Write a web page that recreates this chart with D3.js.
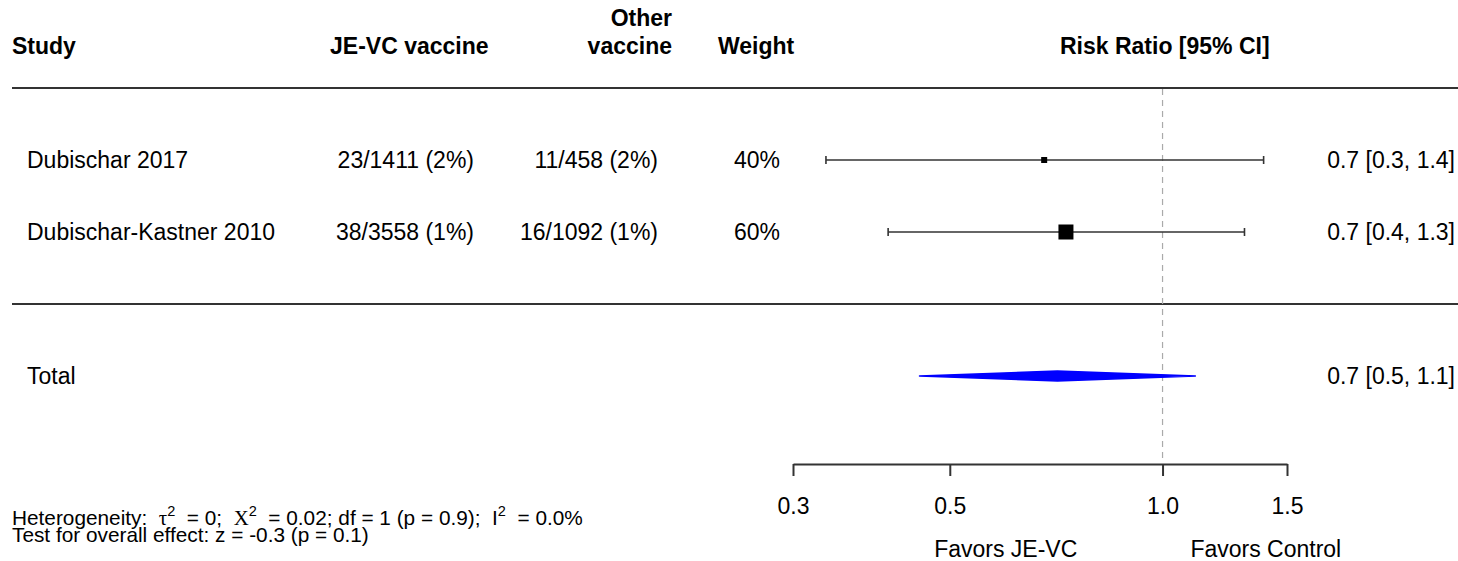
<!DOCTYPE html>
<html>
<head>
<meta charset="utf-8">
<script src="https://cdn.jsdelivr.net/npm/d3@7"></script>
<style>
  body { margin: 0; background: #fff; }
  svg { display: block; font-family: "Liberation Sans", Arial, sans-serif; }
</style>
</head>
<body>
<svg id="chart"></svg>
<script>
const W = 1458, H = 561;

// data
const studies   = ["Dubischar 2017", "Dubischar-Kastner 2010"];
const jevcCells = ["23/1411 (2%)", "38/3558 (1%)"];
const otherCells = ["11/458 (2%)", "16/1092 (1%)"];
const weights   = [40, 60];
const rrEst     = [0.68, 0.73];
const rrLow     = [0.334, 0.409];
const rrHigh    = [1.39, 1.306];
const ciLabels  = ["0.7 [0.3, 1.4]", "0.7 [0.4, 1.3]"];

const totalLabel = "Total";
const totalEst = 0.71, totalLow = 0.453, totalHigh = 1.113;
const totalCI = "0.7 [0.5, 1.1]";

const xTicks = [0.3, 0.5, 1.0, 1.5];
const favors = [["Favors JE-VC", 0.6], ["Favors Control", 1.4]];

const FS = 23;

const svg = d3.select("#chart").attr("width", W).attr("height", H);

const x = d3.scaleLog().domain([0.3, 1.5]).range([793, 1287]);
// row index -> y (studies 0,1 ; total 3)
const y = d3.scaleLinear().domain([0, 1]).range([160, 232]);
const box = d3.scaleLinear().domain([40, 60]).range([6, 15]);

const rows = studies.map((s, i) => ({
  study: s, jevc: jevcCells[i], other: otherCells[i], w: weights[i],
  est: rrEst[i], lo: rrLow[i], hi: rrHigh[i], lab: ciLabels[i], i
}));

// --- header ---
const hdr = svg.append("g").attr("font-weight", "bold").attr("font-size", FS).attr("fill", "#000");
hdr.append("text").attr("x", 12).attr("y", 54).text("Study");
hdr.append("text").attr("x", 330).attr("y", 54).text("JE-VC vaccine");
hdr.append("text").attr("x", 672).attr("y", 26).attr("text-anchor", "end").text("Other");
hdr.append("text").attr("x", 672).attr("y", 54).attr("text-anchor", "end").text("vaccine");
hdr.append("text").attr("x", 718).attr("y", 54).text("Weight");
hdr.append("text").attr("x", 1060).attr("y", 54).text("Risk Ratio [95% CI]");

// separators
svg.selectAll(".sep").data([-1, 2]).join("line")
  .attr("class", "sep")
  .attr("x1", 12).attr("x2", W)
  .attr("y1", d => y(d)).attr("y2", d => y(d))
  .attr("stroke", "#333").attr("stroke-width", 2);

// reference line at 1
svg.append("line")
  .attr("x1", x(1)).attr("x2", x(1))
  .attr("y1", y(-1) + 1).attr("y2", 463)
  .attr("stroke", "#aaa").attr("stroke-width", 1.2)
  .attr("stroke-dasharray", "6 5");

// --- study rows ---
const g = svg.append("g").attr("font-size", FS).attr("fill", "#000");
const row = g.selectAll(".row").data(rows).join("g").attr("class", "row");

row.append("text").attr("x", 27).attr("y", d => y(d.i)).attr("dy", "0.35em").text(d => d.study);
row.append("text").attr("x", 474).attr("y", d => y(d.i)).attr("dy", "0.35em").attr("text-anchor", "end").text(d => d.jevc);
row.append("text").attr("x", 658).attr("y", d => y(d.i)).attr("dy", "0.35em").attr("text-anchor", "end").text(d => d.other);
row.append("text").attr("x", 780).attr("y", d => y(d.i)).attr("dy", "0.35em").attr("text-anchor", "end").text(d => d.w + "%");
row.append("text").attr("x", 1455).attr("y", d => y(d.i)).attr("dy", "0.35em").attr("text-anchor", "end").text(d => d.lab);

row.append("line")
  .attr("x1", d => x(d.lo)).attr("x2", d => x(d.hi))
  .attr("y1", d => y(d.i)).attr("y2", d => y(d.i))
  .attr("stroke", "#333").attr("stroke-width", 1.6);
row.selectAll(".cap").data(d => [d.lo, d.hi].map(v => ({ v, i: d.i }))).join("line")
  .attr("class", "cap")
  .attr("x1", d => x(d.v)).attr("x2", d => x(d.v))
  .attr("y1", d => y(d.i) - 4).attr("y2", d => y(d.i) + 4)
  .attr("stroke", "#333").attr("stroke-width", 1.6);
row.append("rect")
  .attr("x", d => x(d.est) - box(d.w) / 2)
  .attr("y", d => y(d.i) - box(d.w) / 2)
  .attr("width", d => box(d.w)).attr("height", d => box(d.w))
  .attr("fill", "#000");

// --- total ---
const yt = y(3);
g.append("text").attr("x", 27).attr("y", yt).attr("dy", "0.35em").text(totalLabel);
g.append("text").attr("x", 1455).attr("y", yt).attr("dy", "0.35em").attr("text-anchor", "end").text(totalCI);
const dh = 5;
svg.append("path")
  .attr("d", d3.line()([[x(totalLow), yt], [x(totalEst), yt - dh], [x(totalHigh), yt], [x(totalEst), yt + dh]]) + "Z")
  .attr("fill", "#0000ff").attr("stroke", "#0000ff").attr("stroke-width", 1.5)
  .attr("stroke-linejoin", "round");

// --- axis ---
const ax = svg.append("g").attr("transform", "translate(0,464)")
  .call(d3.axisBottom(x).tickValues(xTicks).tickFormat(d3.format(".1f")).tickSize(12).tickSizeOuter(0).tickPadding(22));
ax.select(".domain").attr("stroke", "#333").attr("stroke-width", 2);
ax.selectAll(".tick line").attr("stroke", "#333").attr("stroke-width", 2);
ax.selectAll(".tick text").attr("font-size", FS).attr("font-family", "Liberation Sans, Arial, sans-serif").attr("fill", "#000");

svg.append("g").attr("font-size", FS).attr("fill", "#000")
  .selectAll("text").data(favors).join("text")
  .attr("x", d => x(d[1])).attr("y", 557).attr("text-anchor", "middle")
  .text(d => d[0]);

// --- footnote ---
const FN = 20.8;
const fn = svg.append("g").attr("font-size", FN).attr("fill", "#000");
const t1 = fn.append("text").attr("x", 12).attr("y", 525).attr("xml:space", "preserve");
const sup = (t, s) => t.append("tspan").attr("font-size", FN * 0.7).attr("dy", -9).text(s);
const base = (t, s) => t.append("tspan").attr("dy", 9).text(s);
t1.append("tspan").text("Heterogeneity:  ");
t1.append("tspan").attr("font-family", "Liberation Serif, serif").text("τ");
sup(t1, "2");
base(t1, "  = 0;  ");
t1.append("tspan").attr("font-family", "Liberation Serif, serif").text("Χ");
sup(t1, "2");
base(t1, "  = 0.02; df = 1 (p = 0.9);  I");
sup(t1, "2");
base(t1, "  = 0.0%");
fn.append("text").attr("x", 12).attr("y", 542).text("Test for overall effect: z = -0.3 (p = 0.1)");
</script>
</body>
</html>
